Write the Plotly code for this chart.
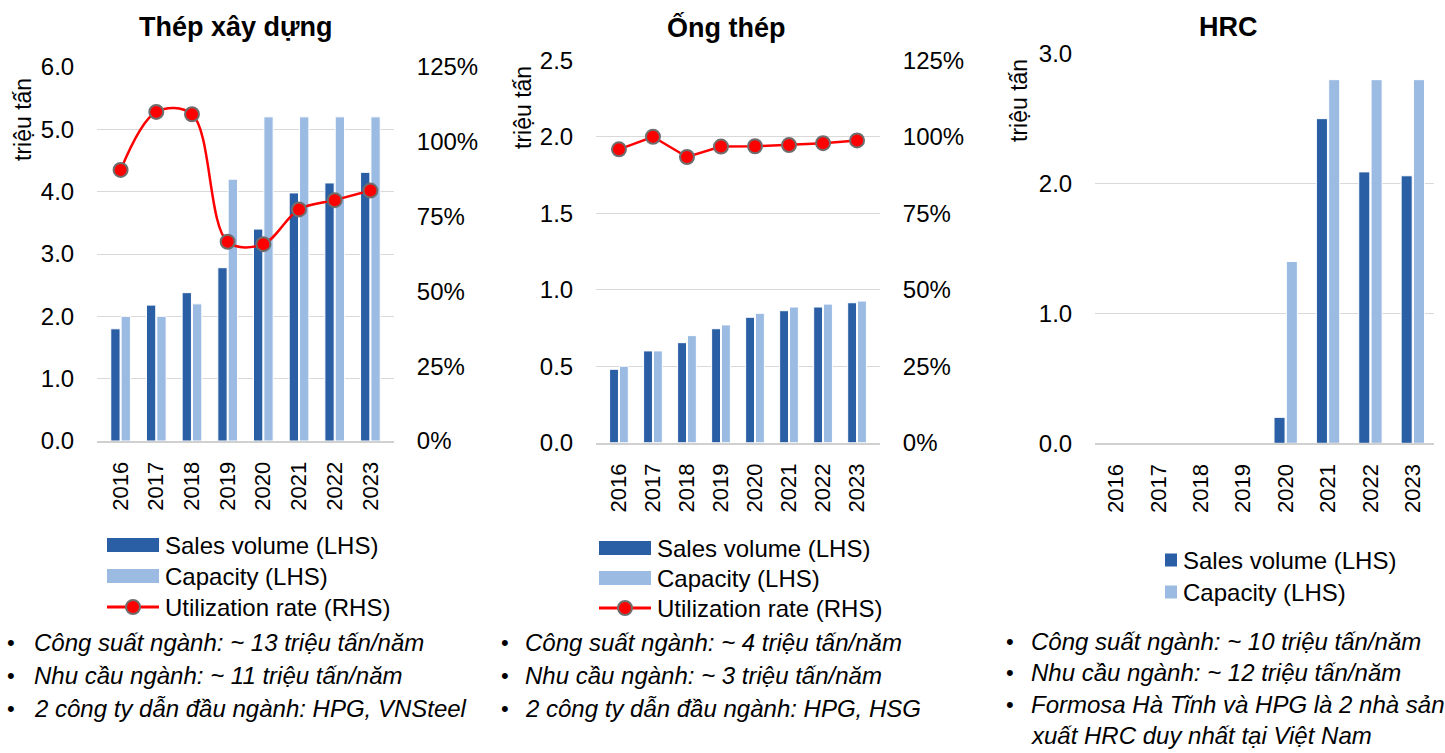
import plotly.graph_objects as go

W, H = 1445, 753

years = ["2016", "2017", "2018", "2019", "2020", "2021", "2022", "2023"]

# Thép xây dựng (million tonnes, utilization as fraction)
rebar_sales = [1.80, 2.18, 2.38, 2.78, 3.40, 3.98, 4.14, 4.31]
rebar_capacity = [2.0, 2.0, 2.2, 4.2, 5.2, 5.2, 5.2, 5.2]
rebar_util = [0.906, 1.10, 1.092, 0.666, 0.658, 0.774, 0.805, 0.837]

# Ống thép
pipe_sales = [0.48, 0.60, 0.654, 0.745, 0.82, 0.863, 0.887, 0.915]
pipe_capacity = [0.50, 0.60, 0.70, 0.77, 0.846, 0.887, 0.906, 0.926]
pipe_util = [0.959, 1.00, 0.934, 0.968, 0.969, 0.973, 0.979, 0.988]

# HRC
hrc_sales = [0, 0, 0, 0, 0.20, 2.50, 2.09, 2.06]
hrc_capacity = [0, 0, 0, 0, 1.40, 2.80, 2.80, 2.80]

titles = ["Thép xây dựng", "Ống thép", "HRC"]
y_title = "triệu tấn"
legend_labels = ["Sales volume (LHS)", "Capacity (LHS)", "Utilization rate (RHS)"]
notes = [
    ["Công suất ngành: ~ 13 triệu tấn/năm",
     "Nhu cầu ngành: ~ 11 triệu tấn/năm",
     "2 công ty dẫn đầu ngành: HPG, VNSteel"],
    ["Công suất ngành: ~ 4 triệu tấn/năm",
     "Nhu cầu ngành: ~ 3 triệu tấn/năm",
     "2 công ty dẫn đầu ngành: HPG, HSG"],
    ["Công suất ngành: ~ 10 triệu tấn/năm",
     "Nhu cầu ngành: ~ 12 triệu tấn/năm",
     "Formosa Hà Tĩnh và HPG là 2 nhà sản",
     "xuất HRC duy nhất tại Việt Nam"],
]

DARK = "#2B5FA5"
LIGHT = "#9BBBE3"
RED = "#FF0000"
GRID = "#D9D9D9"
FONT = "Liberation Sans, Arial, sans-serif"


def px(x):
    return x / W


def py(y):
    return 1 - y / H


fig = go.Figure()

bar_style = dict(marker_line_color="white", marker_line_width=1)

# panel 1
fig.add_trace(go.Bar(x=years, y=rebar_sales, marker_color=DARK, xaxis="x", yaxis="y", **bar_style))
fig.add_trace(go.Bar(x=years, y=rebar_capacity, marker_color=LIGHT, xaxis="x", yaxis="y", **bar_style))
fig.add_trace(go.Scatter(x=years, y=rebar_util, mode="lines+markers", xaxis="x", yaxis="y2",
                         line=dict(color=RED, width=2.5, shape="spline", smoothing=1.0),
                         marker=dict(size=14, color=RED, line=dict(color="#6E6E6E", width=2))))
# panel 2
fig.add_trace(go.Bar(x=years, y=pipe_sales, marker_color=DARK, xaxis="x2", yaxis="y3", **bar_style))
fig.add_trace(go.Bar(x=years, y=pipe_capacity, marker_color=LIGHT, xaxis="x2", yaxis="y3", **bar_style))
fig.add_trace(go.Scatter(x=years, y=pipe_util, mode="lines+markers", xaxis="x2", yaxis="y4",
                         line=dict(color=RED, width=2.5),
                         marker=dict(size=14, color=RED, line=dict(color="#6E6E6E", width=2))))
# panel 3
fig.add_trace(go.Bar(x=years, y=hrc_sales, marker_color=DARK, xaxis="x3", yaxis="y5", **bar_style))
fig.add_trace(go.Bar(x=years, y=hrc_capacity, marker_color=LIGHT, xaxis="x3", yaxis="y5", **bar_style))

xcommon = dict(type="category", tickangle=-90, tickfont=dict(family=FONT, size=22, color="#000000"),
               showgrid=False, showline=True, linecolor="#D0D0D0", linewidth=2,
               ticks="outside", ticklen=10, tickcolor="rgba(0,0,0,0)", fixedrange=True)
ycommon = dict(tickfont=dict(family=FONT, size=24, color="#000000"), showgrid=True, gridcolor=GRID,
               gridwidth=1, zeroline=False, showline=False, ticks="outside", ticklen=17,
               tickcolor="rgba(0,0,0,0)", fixedrange=True)

fig.update_layout(
    width=W, height=H,
    margin=dict(l=0, r=0, t=0, b=0, autoexpand=False),
    paper_bgcolor="white", plot_bgcolor="white",
    showlegend=False, barmode="group", bargap=0.42, bargroupgap=0.1,
    font=dict(family=FONT, color="#000000"),
    xaxis=dict(domain=[px(97), px(394)], anchor="y", **xcommon),
    yaxis=dict(domain=[py(441), py(67)], range=[0, 6], dtick=1, tickformat=".1f", anchor="x", **ycommon),
    yaxis2=dict(overlaying="y", side="right", range=[0, 1.25], dtick=0.25, tickformat=".0%",
                anchor="x", **{**ycommon, "showgrid": False}),
    xaxis2=dict(domain=[px(596), px(880)], anchor="y3", **xcommon),
    yaxis3=dict(domain=[py(442.7), py(60.3)], range=[0, 2.5], dtick=0.5, tickformat=".1f", anchor="x2", **ycommon),
    yaxis4=dict(overlaying="y3", side="right", range=[0, 1.25], dtick=0.25, tickformat=".0%",
                anchor="x2", **{**ycommon, "showgrid": False}),
    xaxis3=dict(domain=[px(1095), px(1434)], anchor="y5", **xcommon),
    yaxis5=dict(domain=[py(443.3), py(53.7)], range=[0, 3], dtick=1, tickformat=".1f", anchor="x3", **ycommon),
)

ann = []
shapes = []

# panel titles
for t, cx in zip(titles, [236, 726, 1228]):
    ann.append(dict(text=f"<b>{t}</b>", x=px(cx), y=py(27), xref="paper", yref="paper",
                    xanchor="center", yanchor="middle", showarrow=False,
                    font=dict(family=FONT, size=27, color="#000000")))

# vertical axis titles
for cx, cy in [(23, 120), (523, 108), (1019, 101)]:
    ann.append(dict(text=y_title, x=px(cx), y=py(cy), xref="paper", yref="paper", textangle=-90,
                    xanchor="center", yanchor="middle", showarrow=False,
                    font=dict(family=FONT, size=23, color="#000000")))

# legends
legend_font = dict(family=FONT, size=24, color="#000000")


def wide_legend(x0, rows):
    for i, (label, yc) in enumerate(zip(legend_labels, rows)):
        if i < 2:
            shapes.append(dict(type="rect", xref="paper", yref="paper",
                               x0=px(x0), x1=px(x0 + 52), y0=py(yc + 7), y1=py(yc - 7),
                               fillcolor=DARK if i == 0 else LIGHT, line=dict(width=0)))
        else:
            shapes.append(dict(type="line", xref="paper", yref="paper",
                               x0=px(x0), x1=px(x0 + 52), y0=py(yc), y1=py(yc),
                               line=dict(color=RED, width=3)))
            shapes.append(dict(type="circle", xref="paper", yref="paper",
                               x0=px(x0 + 19), x1=px(x0 + 33), y0=py(yc + 7), y1=py(yc - 7),
                               fillcolor=RED, line=dict(color="#6E6E6E", width=2)))
        ann.append(dict(text=label, x=px(x0 + 56), y=py(yc), xref="paper", yref="paper",
                        xanchor="left", yanchor="middle", showarrow=False, font=legend_font))


wide_legend(107, [545, 576, 607])
wide_legend(599, [548, 578, 608])

for i, yc in enumerate([560, 592]):
    shapes.append(dict(type="rect", xref="paper", yref="paper",
                       x0=px(1165), x1=px(1177), y0=py(yc + 6.5), y1=py(yc - 6.5),
                       fillcolor=DARK if i == 0 else LIGHT, line=dict(width=0)))
    ann.append(dict(text=legend_labels[i], x=px(1181), y=py(yc), xref="paper", yref="paper",
                    xanchor="left", yanchor="middle", showarrow=False, font=legend_font))

# bullet notes
note_font = dict(family=FONT, size=24, color="#000000")
for lines, bx, tx, y0, step in zip(notes, [11, 505, 1010], [32, 523, 1029],
                                   [642, 642, 641], [33, 33, 31.5]):
    for j, line in enumerate(lines):
        yc = y0 + j * step
        if j < 3:
            ann.append(dict(text="•", x=px(bx), y=py(yc), xref="paper", yref="paper",
                            xanchor="center", yanchor="middle", showarrow=False,
                            font=dict(family=FONT, size=22, color="#000000")))
        ann.append(dict(text=f"<i>{line}</i>", x=px(tx), y=py(yc), xref="paper", yref="paper",
                        xanchor="left", yanchor="middle", showarrow=False, font=note_font))

fig.update_layout(annotations=ann, shapes=shapes)

fig.write_html("out.html")
